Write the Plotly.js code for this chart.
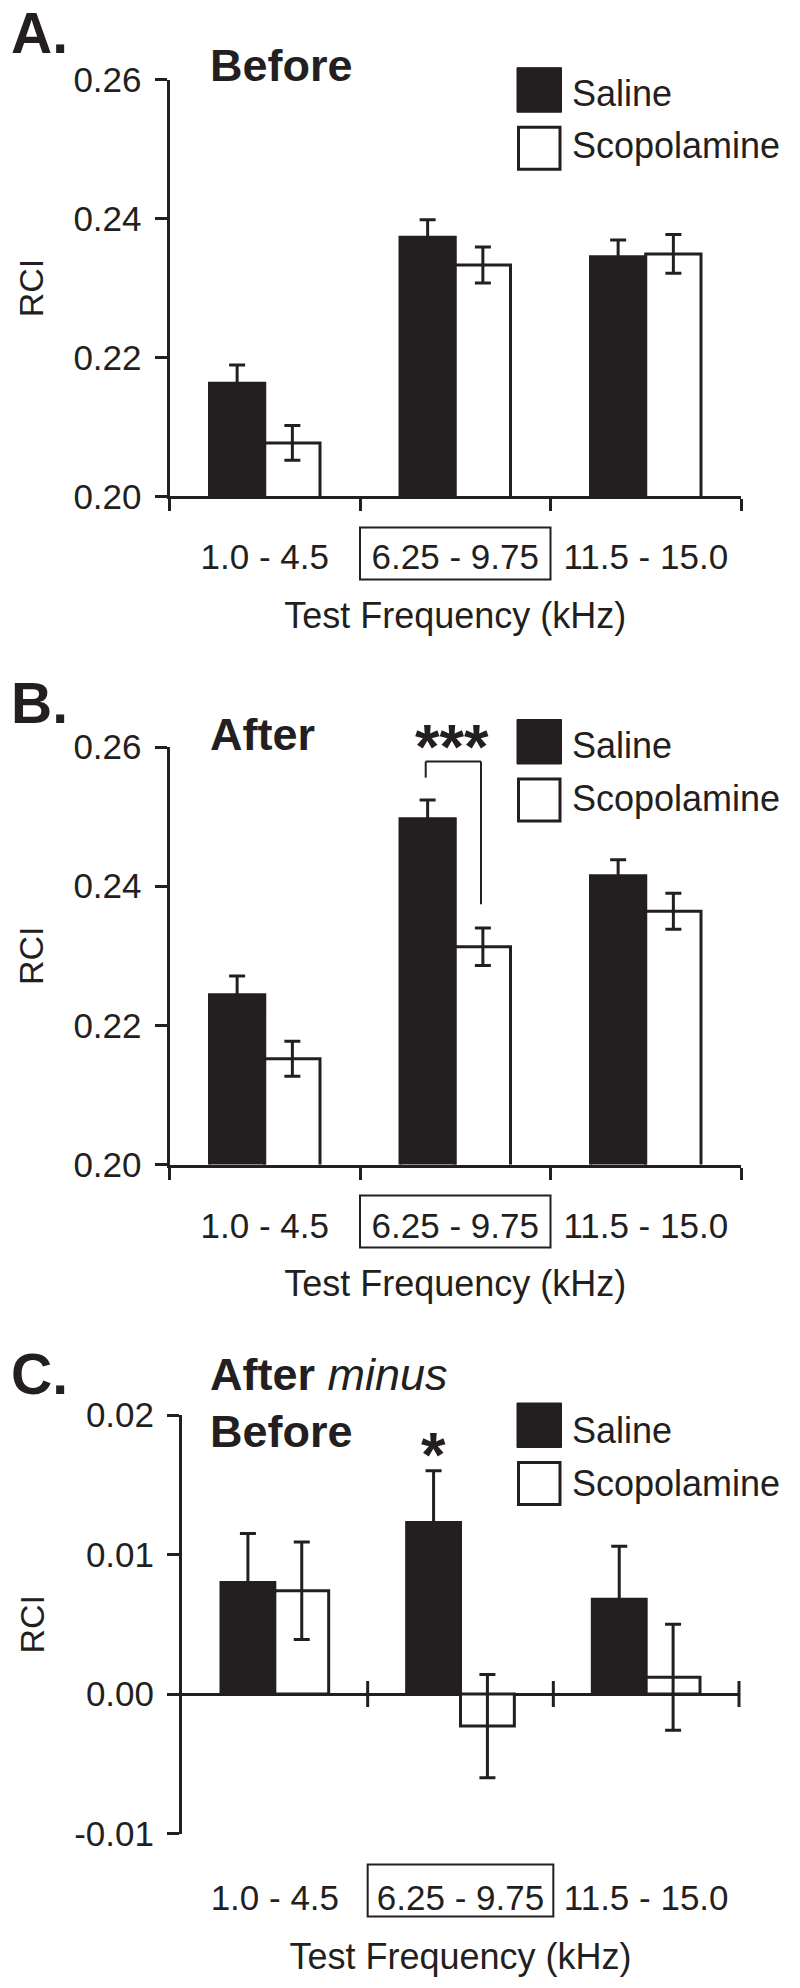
<!DOCTYPE html>
<html><head><meta charset="utf-8">
<script src="https://cdn.plot.ly/plotly-3.0.1.min.js"></script>
<style>html,body{margin:0;padding:0;background:#fff}</style>
</head><body><div id="chart" style="width:800px;height:1988px"></div>
<script>
// ---------------- data ----------------
const categories = ['1.0 - 4.5', '6.25 - 9.75', '11.5 - 15.0'];
const seriesNames = ['Saline', 'Scopolamine'];

// Panel A: Before
const beforeSaline    = [0.2163, 0.2373, 0.2345];
const beforeSalineErr = [0.0026, 0.0025, 0.0024];
const beforeScop      = [0.2077, 0.2333, 0.2349];
const beforeScopErr   = [0.0025, 0.0026, 0.0028];

// Panel B: After
const afterSaline    = [0.2244, 0.2497, 0.2415];
const afterSalineErr = [0.0027, 0.0027, 0.0023];
const afterScop      = [0.2152, 0.2313, 0.2364];
const afterScopErr   = [0.0025, 0.0027, 0.0026];

// Panel C: After minus Before
const diffSaline    = [0.0080, 0.0123, 0.0068];
const diffSalineErr = [0.0035, 0.0037, 0.0038];
const diffScop      = [0.0074, -0.0023, 0.0012];
const diffScopErr   = [0.0035, 0.0037, 0.0038];

const rciTicksAB = [0.20, 0.22, 0.24, 0.26];
const rciTicksC = [-0.01, 0, 0.01, 0.02];
const rciTickTextC = ['-0.01', '0.00', '0.01', '0.02'];

const panelLetters = ['A.', 'B.', 'C.'];
const panelTitles = ['<b>Before</b>', '<b>After</b>', '<b>After</b> <i>minus</i>'];
const xTitle = 'Test Frequency (kHz)';
const yTitle = 'RCI';

// ---------------- layout helpers ----------------
const W = 800, H = 1988;
const INK = '#231f20';
const FONT = '"Liberation Sans", Arial, Helvetica, sans-serif';
const px = v => v / W;
const py = v => 1 - v / H;

const panels = [
  {xa: 'x',  ya: 'y',  xd: [169.5, 741], yd: [79.5, 496.4],  range: [0.20, 0.26],
   sal: beforeSaline, salE: beforeSalineErr, sco: beforeScop, scoE: beforeScopErr},
  {xa: 'x2', ya: 'y2', xd: [169.5, 741], yd: [747, 1164.5],  range: [0.20, 0.26],
   sal: afterSaline, salE: afterSalineErr, sco: afterScop, scoE: afterScopErr},
  {xa: 'x3', ya: 'y3', xd: [182, 739],   yd: [1415, 1833.5], range: [-0.01, 0.02],
   sal: diffSaline, salE: diffSalineErr, sco: diffScop, scoE: diffScopErr}
];

const traces = [];
panels.forEach(p => {
  traces.push({
    type: 'bar', name: seriesNames[0], x: categories, y: p.sal,
    xaxis: p.xa, yaxis: p.ya, showlegend: false,
    marker: {color: INK, line: {color: INK, width: 3}},
    error_y: {type: 'data', array: p.salE, visible: true, color: INK, thickness: 3, width: 8}
  });
  traces.push({
    type: 'bar', name: seriesNames[1], x: categories, y: p.sco,
    xaxis: p.xa, yaxis: p.ya, showlegend: false,
    marker: {color: '#ffffff', line: {color: INK, width: 3}},
    error_y: {type: 'data', array: p.scoE, visible: true, color: INK, thickness: 3, width: 8}
  });
});

const layout = {
  width: W, height: H,
  margin: {l: 0, r: 0, t: 0, b: 0},
  paper_bgcolor: '#ffffff', plot_bgcolor: 'rgba(0,0,0,0)',
  font: {family: FONT, color: INK, size: 35},
  barmode: 'group', bargap: 0.42, bargroupgap: 0,
  showlegend: false,
  shapes: [], annotations: []
};

panels.forEach((p, i) => {
  const sfx = i === 0 ? '' : String(i + 1);
  const isC = i === 2;
  layout['xaxis' + sfx] = {
    domain: [px(p.xd[0]), px(p.xd[1])], anchor: 'y' + sfx,
    type: 'category', categoryorder: 'array', categoryarray: categories,
    range: [-0.5, 2.5], showgrid: false, zeroline: false, fixedrange: true,
    showline: !isC, linecolor: INK, linewidth: 3,
    ticks: isC ? '' : 'outside', tickson: 'boundaries', ticklen: 12, tickwidth: 3, tickcolor: INK,
    tickfont: {size: 35, color: INK, family: FONT},
    ticklabelstandoff: isC ? 40 : 28,
    title: {text: xTitle, font: {size: 36, color: INK, family: FONT}, standoff: 28}
  };
  layout['yaxis' + sfx] = {
    domain: [py(p.yd[1]), py(p.yd[0])], anchor: 'x' + sfx,
    range: p.range, showgrid: false, fixedrange: true,
    zeroline: isC, zerolinecolor: INK, zerolinewidth: 3,
    tickvals: isC ? rciTicksC : rciTicksAB,
    ticktext: isC ? rciTickTextC : rciTicksAB.map(v => v.toFixed(2)),
    showline: true, linecolor: INK, linewidth: 3,
    ticks: 'outside', ticklen: 12, tickwidth: 3, tickcolor: INK,
    tickfont: {size: 35, color: INK, family: FONT},
    ticklabelstandoff: 6,
    title: {text: yTitle, font: {size: 34, color: INK, family: FONT}, standoff: 20}
  };

  // box around the trained frequency band label
  layout.shapes.push({
    type: 'rect', xref: 'x' + sfx, yref: 'y' + sfx + ' domain',
    x0: 0.5, x1: 1.5, ysizemode: 'pixel', yanchor: 0, y0: -31, y1: -83,
    line: {color: INK, width: 2}, fillcolor: 'rgba(0,0,0,0)'
  });

  // legend (drawn by hand to match the large swatches)
  const legTop = [67.7, 719.5, 1403][i];
  layout.shapes.push({
    type: 'rect', xref: 'paper', yref: 'paper',
    x0: px(517), x1: px(561.5), y0: py(legTop), y1: py(legTop + 44.5),
    line: {color: INK, width: 1}, fillcolor: INK
  });
  layout.shapes.push({
    type: 'rect', xref: 'paper', yref: 'paper',
    x0: px(518.5), x1: px(560), y0: py(legTop + 59.5), y1: py(legTop + 101.5),
    line: {color: INK, width: 3}, fillcolor: '#ffffff'
  });
  const legTxt = [[93.3, 146], [745.5, 798.6], [1430, 1483]][i];
  seriesNames.forEach((nm, k) => {
    layout.annotations.push({
      xref: 'paper', yref: 'paper', x: px(570), y: py(legTxt[k]),
      xanchor: 'left', yanchor: 'middle', showarrow: false,
      text: nm, font: {size: 36, color: INK, family: FONT}
    });
  });

  // panel letter
  const letterY = [33.5, 702.5, 1374][i];
  layout.annotations.push({
    xref: 'paper', yref: 'paper', x: px(9), y: py(letterY),
    xanchor: 'left', yanchor: 'middle', showarrow: false,
    text: '<b>' + panelLetters[i] + '</b>', font: {size: 57, color: INK, family: FONT}
  });
  // panel title
  const titleY = [65, 734.5, 1374][i];
  layout.annotations.push({
    xref: 'paper', yref: 'paper', x: px(208), y: py(titleY),
    xanchor: 'left', yanchor: 'middle', showarrow: false,
    text: panelTitles[i], font: {size: 45, color: INK, family: FONT}
  });
});

// second line of panel C title
layout.annotations.push({
  xref: 'paper', yref: 'paper', x: px(208), y: py(1431),
  xanchor: 'left', yanchor: 'middle', showarrow: false,
  text: '<b>Before</b>', font: {size: 45, color: INK, family: FONT}
});

// crossing ticks on the zero line of panel C
const zeroFrac = (0 - panels[2].range[0]) / (panels[2].range[1] - panels[2].range[0]);
[1, 2, 3].forEach(k => {
  layout.shapes.push({
    type: 'line', xref: 'x3 domain', yref: 'y3 domain',
    x0: k / categories.length, x1: k / categories.length,
    ysizemode: 'pixel', yanchor: zeroFrac, y0: -13, y1: 13,
    line: {color: INK, width: 3}
  });
});

// significance bracket, panel B
const brX = [0.845, 1.135], brTop = 0.2579, brLeft = 0.2556, brRight = 0.2374;
[[brX[0], brLeft, brX[0], brTop], [brX[0], brTop, brX[1], brTop], [brX[1], brTop, brX[1], brRight]]
  .forEach(s => layout.shapes.push({
    type: 'line', xref: 'x2', yref: 'y2', x0: s[0], y0: s[1], x1: s[2], y1: s[3],
    line: {color: INK, width: 2}
  }));

layout.annotations.push({
  xref: 'x2', yref: 'paper', x: 0.985, y: py(746), xanchor: 'center', yanchor: 'middle',
  showarrow: false, text: '<b>***</b>', font: {size: 63, color: INK, family: FONT}
});
layout.annotations.push({
  xref: 'x3', yref: 'paper', x: 0.855, y: py(1454), xanchor: 'center', yanchor: 'middle',
  showarrow: false, text: '<b>*</b>', font: {size: 63, color: INK, family: FONT}
});

Plotly.newPlot('chart', traces, layout, {staticPlot: true, displayModeBar: false});
</script>
</body></html>
